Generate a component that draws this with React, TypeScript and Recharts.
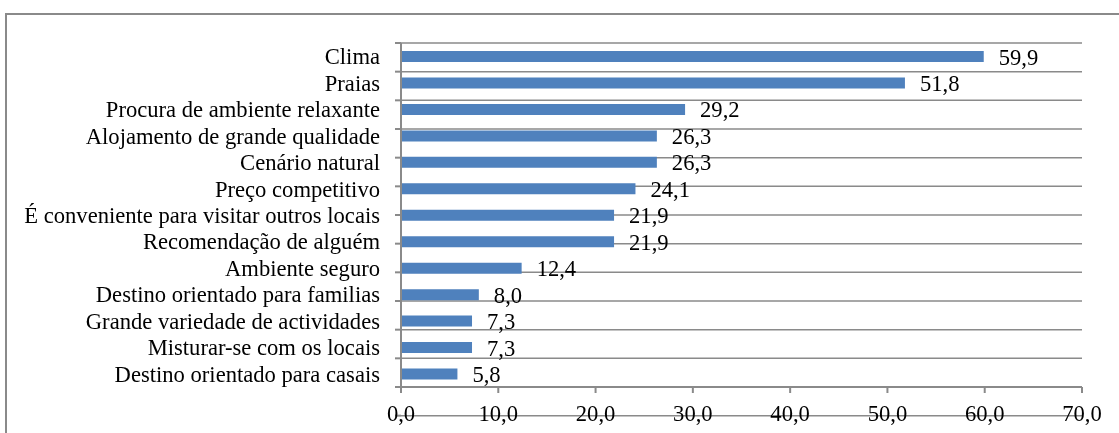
import { BarChart, Bar, XAxis, YAxis, CartesianGrid, LabelList } from "recharts";

const motivos = [
  "Clima",
  "Praias",
  "Procura de ambiente relaxante",
  "Alojamento de grande qualidade",
  "Cenário natural",
  "Preço competitivo",
  "É conveniente para visitar outros locais",
  "Recomendação de alguém",
  "Ambiente seguro",
  "Destino orientado para familias",
  "Grande variedade de actividades",
  "Misturar-se com os locais",
  "Destino orientado para casais",
];

const percentagens = [59.9, 51.8, 29.2, 26.3, 26.3, 24.1, 21.9, 21.9, 12.4, 8.0, 7.3, 7.3, 5.8];

const xTicks = [0, 10, 20, 30, 40, 50, 60, 70];

// limites entre categorias (para grelha e marcas do eixo)
const limites = Array.from({ length: motivos.length + 1 }, (_, i) => i);

const data = motivos.map((nome, i) => ({ nome, valor: percentagens[i] }));

const fmt = (v: number) => v.toFixed(1).replace(".", ",");

const font = "Liberation Serif, DejaVu Serif, serif";
const fontSize = 22.6;
const gray = "#8a8a8a";

export default function App() {
  return (
    <div
      style={{
        position: "fixed",
        left: 5,
        top: 13,
        right: 0,
        bottom: 0,
        borderTop: `2px solid ${gray}`,
        borderLeft: `2px solid ${gray}`,
        fontFamily: font,
      }}
    >
      <BarChart
        width={1110}
        height={418}
        layout="vertical"
        data={data}
        barCategoryGap={0}
        margin={{ top: 28, right: 35, left: 0, bottom: 0 }}
        style={{ fontFamily: font }}
      >
        <CartesianGrid
          vertical={false}
          yAxisId="a"
          stroke={gray}
          strokeWidth={1.5}
        />
        <XAxis
          type="number"
          domain={[0, 70]}
          ticks={xTicks}
          tickFormatter={fmt}
          height={46}
          stroke={gray}
          strokeWidth={2}
          tickSize={6}
          tickMargin={12}
          tick={{ fill: "#000", fontSize, fontFamily: font }}
        />
        <YAxis
          yAxisId="a"
          type="number"
          domain={[0, limites.length - 1]}
          ticks={limites}
          width={1}
          tickSize={6}
          axisLine={{ stroke: gray, strokeWidth: 2 }}
          tickLine={{ stroke: gray, strokeWidth: 2 }}
          tickFormatter={() => ""}
        />
        <YAxis
          yAxisId="b"
          type="category"
          dataKey="nome"
          width={393}
          axisLine={false}
          tickLine={false}
          tickMargin={14}
          interval={0}
          tick={{ fill: "#000", fontSize, fontFamily: font }}
        />
        <Bar
          yAxisId="b"
          dataKey="valor"
          fill="#4F81BD"
          barSize={11}
          isAnimationActive={false}
        >
          <LabelList
            dataKey="valor"
            position="right"
            offset={15}
            formatter={(v: number) => fmt(v)}
            style={{ fill: "#000", fontSize, fontFamily: font }}
          />
        </Bar>
      </BarChart>
    </div>
  );
}
